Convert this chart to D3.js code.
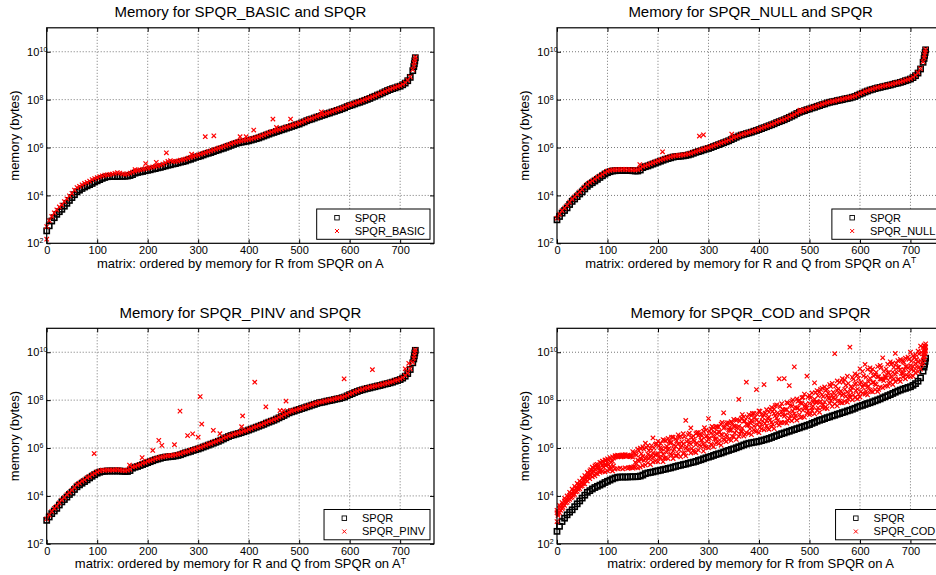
<!DOCTYPE html>
<html>
<head>
<meta charset="utf-8">
<script src="https://cdn.jsdelivr.net/npm/d3@7"></script>
<style>
body { margin: 0; background: #fff; }
text { font-family: "Liberation Sans", Arial, Helvetica, sans-serif; fill: #000; }
</style>
</head>
<body>
<svg id="fig" width="936" height="575"></svg>
<script>
// matrix positions sampled along the x axis (every 5th matrix, plus the steep tail)
var matrixIdx = d3.range(0, 726, 5).concat([727, 728, 729, 730]);
// in-between positions used for the extra SPQR_COD samples
var codIdx = d3.range(2, 723, 5);

// all memory values are log10(bytes)
// SPQR, R only, on A (panels 1 and 4)
var spqrA = [
	2.52, 2.73, 2.93, 3.07, 3.21, 3.32, 3.42, 3.55, 3.67, 3.79,
	3.91, 4.03, 4.15, 4.22, 4.29, 4.35, 4.40, 4.45, 4.50, 4.56,
	4.61, 4.66, 4.71, 4.75, 4.78, 4.79, 4.79, 4.79, 4.79, 4.80,
	4.80, 4.80, 4.81, 4.83, 4.87, 4.93, 4.96, 4.98, 5.00, 5.03,
	5.05, 5.07, 5.10, 5.12, 5.15, 5.17, 5.20, 5.23, 5.26, 5.28,
	5.31, 5.33, 5.36, 5.39, 5.41, 5.44, 5.48, 5.51, 5.55, 5.59,
	5.62, 5.65, 5.69, 5.73, 5.76, 5.79, 5.83, 5.87, 5.90, 5.94,
	5.97, 6.01, 6.05, 6.09, 6.13, 6.17, 6.20, 6.22, 6.24, 6.26,
	6.28, 6.31, 6.34, 6.37, 6.40, 6.44, 6.48, 6.52, 6.56, 6.60,
	6.63, 6.67, 6.70, 6.74, 6.77, 6.81, 6.84, 6.88, 6.91, 6.95,
	6.98, 7.03, 7.07, 7.12, 7.16, 7.19, 7.23, 7.27, 7.30, 7.34,
	7.37, 7.41, 7.44, 7.48, 7.51, 7.55, 7.58, 7.62, 7.66, 7.71,
	7.75, 7.78, 7.82, 7.86, 7.89, 7.93, 7.97, 8.01, 8.05, 8.10,
	8.14, 8.19, 8.23, 8.28, 8.33, 8.38, 8.42, 8.46, 8.49, 8.53,
	8.56, 8.62, 8.69, 8.79, 8.93, 9.21,
	9.38, 9.50, 9.62, 9.75
];

// SPQR, R and Q, on A^T (panels 2 and 3)
var spqrAT = [
	2.98, 3.12, 3.26, 3.37, 3.48, 3.62, 3.75, 3.85, 3.95, 4.06,
	4.15, 4.27, 4.38, 4.46, 4.53, 4.60, 4.67, 4.75, 4.82, 4.89,
	4.95, 4.99, 5.02, 5.03, 5.04, 5.04, 5.04, 5.04, 5.04, 5.04,
	5.03, 5.02, 5.02, 5.06, 5.16, 5.20, 5.23, 5.27, 5.31, 5.35,
	5.39, 5.43, 5.47, 5.51, 5.54, 5.57, 5.60, 5.62, 5.63, 5.64,
	5.65, 5.67, 5.69, 5.72, 5.76, 5.80, 5.83, 5.86, 5.90, 5.93,
	5.96, 6.00, 6.04, 6.08, 6.12, 6.16, 6.20, 6.24, 6.28, 6.33,
	6.38, 6.43, 6.48, 6.52, 6.55, 6.58, 6.61, 6.64, 6.68, 6.71,
	6.75, 6.79, 6.83, 6.87, 6.91, 6.95, 6.99, 7.04, 7.08, 7.12,
	7.16, 7.21, 7.26, 7.31, 7.36, 7.42, 7.47, 7.51, 7.54, 7.58,
	7.61, 7.65, 7.68, 7.72, 7.75, 7.79, 7.82, 7.86, 7.89, 7.91,
	7.93, 7.96, 7.98, 8.00, 8.03, 8.05, 8.07, 8.10, 8.13, 8.18,
	8.23, 8.27, 8.32, 8.36, 8.40, 8.43, 8.46, 8.49, 8.51, 8.54,
	8.56, 8.59, 8.61, 8.64, 8.67, 8.69, 8.72, 8.75, 8.79, 8.82,
	8.86, 8.92, 9.00, 9.11, 9.28, 9.56,
	9.72, 9.85, 9.97, 10.08
];

// SPQR_BASIC
var basic = [
	2.70, 2.95, 3.12, 3.27, 3.40, 3.52, 3.60, 3.74, 3.86, 3.98,
	4.09, 4.22, 4.33, 4.38, 4.44, 4.50, 4.54, 4.60, 4.66, 4.70,
	4.74, 4.78, 4.82, 4.85, 4.86, 4.88, 4.89, 4.92, 4.95, 4.93,
	4.90, 4.88, 4.90, 4.93, 4.97, 5.01, 5.05, 5.07, 5.09, 5.12,
	5.14, 5.16, 5.19, 5.21, 5.24, 5.27, 5.31, 5.36, 5.42, 5.45,
	5.42, 5.42, 5.44, 5.47, 5.49, 5.52, 5.56, 5.59, 5.62, 5.66,
	5.69, 5.72, 5.76, 5.79, 5.83, 5.86, 5.90, 5.93, 5.97, 6.00,
	6.04, 6.08, 6.11, 6.15, 6.19, 6.23, 6.26, 6.28, 6.30, 6.32,
	6.34, 6.36, 6.39, 6.42, 6.45, 6.49, 6.53, 6.57, 6.61, 6.65,
	6.68, 6.72, 6.75, 6.78, 6.82, 6.85, 6.88, 6.92, 6.95, 6.99,
	7.02, 7.06, 7.10, 7.15, 7.19, 7.22, 7.26, 7.30, 7.33, 7.37,
	7.40, 7.44, 7.47, 7.51, 7.54, 7.58, 7.61, 7.65, 7.69, 7.74,
	7.78, 7.81, 7.85, 7.89, 7.92, 7.96, 8.00, 8.04, 8.08, 8.12,
	8.16, 8.21, 8.25, 8.30, 8.35, 8.40, 8.44, 8.48, 8.51, 8.55,
	8.58, 8.64, 8.71, 8.81, 8.95, 9.25,
	9.42, 9.55, 9.66, 9.78
];
var basicOutIdx = [0, 175, 196, 217, 237, 287, 314, 331, 383, 395, 410, 448, 455, 483, 544];
var basicOut = [2.17, 5.08, 5.33, 5.38, 5.78, 5.72, 6.45, 6.49, 6.45, 6.45, 6.73, 7.19, 6.84, 7.19, 7.49];

// SPQR_NULL
var nullR = [
	3.05, 3.22, 3.36, 3.47, 3.58, 3.72, 3.84, 3.94, 4.04, 4.15,
	4.25, 4.36, 4.46, 4.54, 4.61, 4.68, 4.75, 4.82, 4.88, 4.95,
	5.01, 5.05, 5.07, 5.08, 5.08, 5.08, 5.09, 5.09, 5.08, 5.08,
	5.07, 5.07, 5.08, 5.12, 5.20, 5.24, 5.28, 5.32, 5.36, 5.40,
	5.44, 5.48, 5.52, 5.55, 5.58, 5.61, 5.64, 5.66, 5.67, 5.68,
	5.69, 5.71, 5.73, 5.76, 5.80, 5.83, 5.87, 5.90, 5.93, 5.97,
	6.00, 6.04, 6.07, 6.11, 6.15, 6.19, 6.23, 6.27, 6.31, 6.36,
	6.41, 6.46, 6.50, 6.54, 6.57, 6.60, 6.63, 6.66, 6.70, 6.73,
	6.77, 6.81, 6.85, 6.89, 6.93, 6.97, 7.01, 7.06, 7.10, 7.14,
	7.18, 7.23, 7.28, 7.33, 7.38, 7.44, 7.49, 7.53, 7.56, 7.60,
	7.63, 7.67, 7.70, 7.74, 7.77, 7.81, 7.84, 7.88, 7.91, 7.93,
	7.95, 7.98, 8.00, 8.02, 8.05, 8.07, 8.09, 8.12, 8.15, 8.20,
	8.25, 8.29, 8.34, 8.38, 8.42, 8.45, 8.48, 8.51, 8.53, 8.56,
	8.58, 8.61, 8.63, 8.66, 8.69, 8.71, 8.74, 8.77, 8.81, 8.84,
	8.88, 8.94, 9.02, 9.13, 9.30, 9.58,
	9.74, 9.87, 9.99, 10.10
];
var nullOutIdx = [164, 209, 282, 290, 346, 481];
var nullOut = [5.29, 5.82, 6.48, 6.53, 6.56, 7.56];

// SPQR_PINV
var pinv = [
	3.04, 3.20, 3.35, 3.48, 3.57, 3.71, 3.83, 3.93, 4.05, 4.14,
	4.24, 4.35, 4.47, 4.53, 4.62, 4.67, 4.76, 4.81, 4.89, 4.94,
	5.00, 5.05, 5.08, 5.07, 5.09, 5.08, 5.08, 5.09, 5.10, 5.08,
	5.07, 5.06, 5.08, 5.11, 5.21, 5.23, 5.28, 5.31, 5.37, 5.39,
	5.45, 5.47, 5.51, 5.56, 5.58, 5.62, 5.63, 5.66, 5.68, 5.68,
	5.70, 5.71, 5.74, 5.76, 5.81, 5.83, 5.86, 5.91, 5.93, 5.96,
	6.01, 6.03, 6.08, 6.11, 6.16, 6.18, 6.24, 6.27, 6.32, 6.35,
	6.42, 6.45, 6.51, 6.53, 6.58, 6.60, 6.64, 6.66, 6.71, 6.73,
	6.78, 6.81, 6.86, 6.89, 6.94, 6.97, 7.02, 7.06, 7.11, 7.14,
	7.19, 7.23, 7.29, 7.33, 7.39, 7.44, 7.50, 7.53, 7.57, 7.60,
	7.64, 7.67, 7.71, 7.74, 7.78, 7.81, 7.85, 7.88, 7.92, 7.93,
	7.96, 7.98, 8.01, 8.02, 8.06, 8.07, 8.10, 8.12, 8.16, 8.20,
	8.26, 8.29, 8.35, 8.38, 8.43, 8.45, 8.49, 8.51, 8.54, 8.56,
	8.59, 8.61, 8.64, 8.66, 8.70, 8.71, 8.75, 8.77, 8.82, 8.84,
	8.89, 8.94, 9.03, 9.13, 9.31, 9.58,
	9.75, 9.87, 10.00, 10.10
];
var pinvOutIdx = [94, 164, 189, 210, 222, 228, 253, 264, 279, 289, 300, 304, 307, 330, 343,
	386, 388, 412, 434, 462, 469, 474, 483, 589, 645, 710, 717];
var pinvOut = [5.77, 5.29, 5.60, 5.90, 6.32, 6.11, 6.14, 7.54, 6.52, 6.59, 6.45, 8.15, 7.00, 6.74, 6.60,
	6.89, 7.34, 8.75, 7.72, 7.56, 7.56, 7.96, 7.57, 8.89, 9.27, 9.31, 9.54];

// SPQR_COD: a wide cloud, kept as samples from its lower, middle and upper parts
var codLo = [
	2.93, 3.30, 3.47, 3.60, 3.73, 3.86, 3.95, 4.06, 4.19, 4.30,
	4.42, 4.50, 4.62, 4.72, 4.80, 4.84, 4.92, 4.98, 5.02, 5.00,
	5.05, 5.10, 5.04, 5.12, 5.14, 5.16, 5.13, 5.17, 5.15, 5.18,
	5.16, 5.19, 5.17, 5.20, 5.26, 5.29, 5.38, 5.31, 5.42, 5.45,
	5.43, 5.59, 5.43, 5.59, 5.56, 5.75, 5.56, 5.67, 5.76, 5.63,
	5.77, 5.67, 5.91, 5.79, 5.90, 5.81, 5.91, 6.08, 5.87, 6.04,
	6.01, 6.16, 6.05, 6.21, 6.18, 6.12, 6.37, 6.27, 6.36, 6.32,
	6.47, 6.36, 6.49, 6.67, 6.50, 6.64, 6.61, 6.56, 6.76, 6.69,
	6.64, 6.80, 6.76, 6.92, 6.78, 6.89, 6.81, 7.03, 6.96, 7.07,
	7.07, 7.04, 7.23, 7.13, 7.25, 7.16, 7.40, 7.30, 7.29, 7.45,
	7.39, 7.57, 7.43, 7.57, 7.49, 7.69, 7.66, 7.65, 7.87, 7.74,
	7.84, 7.76, 7.96, 7.89, 7.95, 7.92, 8.13, 8.01, 8.12, 8.05,
	8.13, 8.28, 8.25, 8.22, 8.42, 8.34, 8.44, 8.36, 8.54, 8.52,
	8.59, 8.58, 8.75, 8.65, 8.77, 8.86, 8.78, 8.97, 8.89, 8.99,
	8.98, 9.00, 9.14, 9.19, 9.29, 9.55,
	9.70, 9.82, 9.95, 10.05
];
var codMid = [
	3.30, 3.48, 3.60, 3.79, 3.87, 4.02, 4.09, 4.23, 4.34, 4.46,
	4.55, 4.71, 4.77, 4.91, 4.96, 5.12, 5.17, 5.05, 5.27, 5.31,
	5.36, 5.22, 5.45, 5.62, 5.64, 5.66, 5.65, 5.67, 5.66, 5.64,
	5.62, 5.40, 5.50, 5.58, 5.66, 5.55, 5.74, 5.61, 5.80, 5.70,
	5.77, 6.02, 5.74, 6.00, 5.94, 6.19, 5.88, 6.07, 6.17, 6.03,
	6.17, 5.99, 6.34, 6.16, 6.34, 6.14, 6.52, 6.32, 6.17, 6.48,
	6.36, 6.62, 6.52, 6.38, 6.68, 6.57, 6.83, 6.56, 6.77, 6.74,
	6.92, 6.72, 6.90, 6.72, 7.12, 6.99, 6.96, 7.16, 6.91, 7.16,
	7.09, 6.99, 7.37, 7.13, 7.29, 7.08, 7.44, 7.25, 7.41, 7.52,
	7.33, 7.60, 7.49, 7.75, 7.43, 7.68, 7.59, 7.86, 7.74, 7.67,
	7.86, 7.68, 8.04, 7.92, 7.90, 8.23, 7.92, 8.18, 8.07, 8.20,
	8.04, 8.40, 8.26, 8.20, 8.45, 8.34, 8.21, 8.52, 8.66, 8.46,
	8.68, 8.54, 8.69, 8.54, 8.91, 8.74, 8.68, 8.97, 8.89, 8.88,
	8.94, 9.14, 8.93, 9.17, 9.08, 9.37, 9.27, 9.12, 9.41, 9.35,
	9.44, 9.41, 9.53, 9.59, 9.65, 9.81,
	9.96, 10.04, 10.14, 10.22
];
var codHi = [
	3.40, 3.60, 3.72, 3.90, 4.00, 4.15, 4.28, 4.40, 4.52, 4.62,
	4.74, 4.85, 4.98, 5.05, 5.20, 5.25, 5.32, 5.40, 5.45, 5.50,
	5.55, 5.60, 5.63, 5.68, 5.70, 5.69, 5.71, 5.72, 5.70, 5.68,
	5.85, 5.78, 5.95, 6.00, 6.05, 6.20, 6.10, 5.98, 6.42, 6.15,
	6.28, 6.20, 6.35, 6.30, 6.40, 6.25, 6.45, 6.38, 6.55, 6.49,
	6.60, 7.15, 6.55, 6.84, 6.50, 6.60, 6.65, 6.55, 6.70, 6.75,
	7.23, 6.80, 6.85, 6.90, 6.88, 7.00, 7.47, 7.00, 7.05, 7.10,
	7.20, 7.15, 8.03, 7.25, 7.30, 8.75, 7.40, 7.35, 7.45, 8.44,
	7.55, 7.40, 8.65, 7.60, 7.50, 7.70, 7.62, 7.80, 8.89, 7.85,
	8.90, 7.90, 8.61, 7.95, 9.39, 8.05, 8.00, 8.10, 8.25, 9.00,
	8.20, 8.30, 8.72, 8.40, 8.35, 8.50, 8.55, 8.45, 8.65, 8.70,
	9.94, 8.80, 8.75, 8.90, 8.85, 9.00, 10.21, 8.95, 9.10, 9.05,
	9.31, 9.20, 9.49, 9.28, 9.35, 9.30, 9.07, 9.40, 9.45, 9.77,
	9.00, 9.50, 9.60, 9.55, 9.95, 9.65, 9.70, 9.62, 9.75, 9.80,
	10.00, 9.85, 9.90, 10.05, 10.26, 10.20,
	10.30, 10.15, 10.25, 10.35
];
var codA = [
	3.18, 3.40, 3.52, 3.71, 3.80, 3.93, 4.02, 4.17, 4.27, 4.40,
	4.50, 4.66, 4.80, 4.85, 5.02, 4.94, 5.15, 5.08, 5.20, 5.26,
	5.30, 5.18, 5.25, 5.64, 5.66, 5.63, 5.67, 5.65, 5.18, 5.20,
	5.22, 5.35, 5.45, 5.52, 5.48, 5.60, 5.57, 5.66, 5.62, 5.75,
	5.61, 5.86, 5.58, 5.82, 5.99, 5.70, 5.95, 5.68, 5.93, 6.09,
	5.81, 6.05, 6.21, 5.98, 5.84, 6.21, 6.12, 6.33, 6.08, 6.28,
	6.42, 6.12, 6.38, 6.59, 6.33, 6.54, 6.33, 6.50, 6.74, 6.49,
	6.63, 6.86, 6.57, 6.83, 6.58, 6.95, 6.80, 7.09, 6.71, 6.97,
	6.86, 7.13, 7.03, 6.82, 7.17, 6.99, 7.34, 7.15, 7.05, 7.39,
	7.38, 7.16, 7.34, 7.55, 7.34, 7.67, 7.27, 7.58, 7.69, 7.54,
	7.45, 7.75, 7.92, 7.68, 7.95, 7.81, 7.72, 8.10, 7.97, 8.09,
	8.21, 7.98, 7.90, 8.26, 8.16, 8.05, 8.40, 8.22, 8.40, 8.24,
	8.36, 8.64, 8.37, 8.58, 8.37, 8.74, 8.65, 8.45, 8.88, 8.81,
	8.93, 8.71, 8.99, 8.89, 9.18, 8.87, 9.12, 9.27, 9.06, 9.17,
	9.28, 9.23, 9.39, 9.37, 9.49
];
var codB = [
	3.25, 3.52, 3.66, 3.84, 3.95, 4.08, 4.20, 4.32, 4.46, 4.55,
	4.68, 4.80, 4.92, 5.10, 5.15, 5.30, 5.22, 5.38, 5.42, 5.48,
	5.50, 5.42, 5.58, 5.66, 5.68, 5.64, 5.70, 5.66, 5.67, 5.65,
	5.80, 5.70, 5.88, 5.76, 5.95, 6.02, 5.90, 6.10, 6.00, 6.18,
	6.08, 5.96, 6.32, 6.08, 6.28, 6.45, 6.12, 6.30, 6.45, 6.26,
	6.47, 6.27, 6.62, 6.44, 6.29, 6.64, 6.58, 6.51, 6.85, 6.52,
	6.71, 6.90, 6.67, 6.88, 6.66, 7.07, 6.86, 7.05, 6.86, 7.06,
	6.89, 7.19, 7.12, 7.40, 7.13, 7.28, 7.07, 7.45, 7.28, 7.40,
	7.53, 7.29, 7.46, 7.26, 7.62, 7.53, 7.77, 7.47, 7.73, 7.61,
	7.60, 7.87, 7.78, 8.01, 7.70, 7.95, 7.88, 8.12, 7.82, 8.13,
	8.10, 7.92, 8.31, 8.18, 8.45, 8.15, 8.41, 8.29, 8.57, 8.33,
	8.59, 8.47, 8.38, 8.76, 8.62, 8.70, 8.56, 8.88, 8.71, 8.91,
	8.75, 9.01, 8.96, 8.77, 9.17, 9.01, 9.16, 8.98, 9.36, 9.20,
	9.30, 9.14, 9.50, 9.37, 9.54, 9.37, 9.66, 9.58, 9.39, 9.70,
	9.63, 9.77, 9.71, 9.93, 9.99
];

var xTicks = [0, 100, 200, 300, 400, 500, 600, 700];
var yTicks = [1e2, 1e4, 1e6, 1e8, 1e10];

var pw = 387.3, ph = 215.5;
var x = d3.scaleLinear().domain([0, 767]).range([0, pw]);
var y = d3.scaleLog().domain([1e2, 1e11]).range([ph, 0]);

var svg = d3.select('#fig');

var pairs = function(idx, vals) {
	return idx.map(function(d, i) { return {i: d, v: Math.pow(10, vals[i])}; });
};

var panels = [
	{left: 46.7, top: 27.8, title: 'Memory for SPQR_BASIC and SPQR', name: 'SPQR_BASIC',
		xlabel: 'matrix: ordered by memory for R from SPQR on A', sup: '',
		black: spqrA, reds: [pairs(matrixIdx, basic), pairs(basicOutIdx, basicOut)]},
	{left: 557, top: 27.8, title: 'Memory for SPQR_NULL and SPQR', name: 'SPQR_NULL',
		xlabel: 'matrix: ordered by memory for R and Q from SPQR on A', sup: 'T',
		black: spqrAT, reds: [pairs(matrixIdx, nullR), pairs(nullOutIdx, nullOut)]},
	{left: 46.7, top: 328.3, title: 'Memory for SPQR_PINV and SPQR', name: 'SPQR_PINV',
		xlabel: 'matrix: ordered by memory for R and Q from SPQR on A', sup: 'T',
		black: spqrAT, reds: [pairs(matrixIdx, pinv), pairs(pinvOutIdx, pinvOut)]},
	{left: 557, top: 328.3, title: 'Memory for SPQR_COD and SPQR', name: 'SPQR_COD',
		xlabel: 'matrix: ordered by memory for R from SPQR on A', sup: '',
		black: spqrA, reds: [pairs(matrixIdx, codLo), pairs(codIdx, codA), pairs(matrixIdx, codMid),
			pairs(codIdx, codB), pairs(matrixIdx, codHi)]}
];

var xPath = 'M-2.2,-2.2L2.2,2.2M-2.2,2.2L2.2,-2.2';
var sq = 5.2;

var drawPanel = function(p) {
	var g = svg.append('g').attr('transform', 'translate(' + p.left + ',' + p.top + ')');

	// dotted grid
	var grid = g.append('g').attr('stroke', '#777').attr('stroke-dasharray', '1,2');
	grid.selectAll('line.v').data(xTicks.slice(1)).enter().append('line')
		.attr('x1', function(d) { return x(d); })
		.attr('x2', function(d) { return x(d); })
		.attr('y1', 0).attr('y2', ph);
	grid.selectAll('line.h').data(yTicks.slice(1)).enter().append('line')
		.attr('x1', 0).attr('x2', pw)
		.attr('y1', function(d) { return y(d); })
		.attr('y2', function(d) { return y(d); });

	// axes, ticks pointing inwards
	var xa = g.append('g').attr('transform', 'translate(0,' + ph + ')')
		.call(d3.axisBottom(x).tickValues(xTicks).tickSize(-4).tickPadding(3.2).tickFormat(d3.format('d')));
	xa.attr('font-size', 11).attr('font-family', null);
	g.append('g').call(d3.axisTop(x).tickValues(xTicks).tickSize(-4).tickFormat(''));
	var ya = g.append('g').call(d3.axisLeft(y).tickValues(yTicks).tickSize(-4).tickFormat(''));
	g.append('g').attr('transform', 'translate(' + pw + ',0)')
		.call(d3.axisRight(y).tickValues(yTicks).tickSize(-4).tickFormat(''));
	g.selectAll('.domain').remove();
	g.selectAll('.tick line').attr('stroke', '#000');

	ya.selectAll('.tick text').remove();
	ya.selectAll('.tick').each(function(d) {
		var t = d3.select(this);
		t.append('text').attr('x', -7.4).attr('y', 3.6).attr('text-anchor', 'end')
			.attr('font-size', 11).text('10');
		t.append('text').attr('x', -7.2).attr('y', -0.4).attr('text-anchor', 'start')
			.attr('font-size', 7).text(Math.round(Math.log10(d)));
	});

	// SPQR squares, then the red crosses on top
	g.append('g').selectAll('rect').data(pairs(matrixIdx, p.black)).enter().append('rect')
		.attr('x', function(d) { return x(d.i) - sq / 2; })
		.attr('y', function(d) { return y(d.v) - sq / 2; })
		.attr('width', sq).attr('height', sq)
		.attr('fill', 'none').attr('stroke', '#000').attr('stroke-width', 1.6);

	p.reds.forEach(function(set) {
		g.append('g').selectAll('path').data(set).enter().append('path')
			.attr('d', xPath)
			.attr('transform', function(d) { return 'translate(' + x(d.i) + ',' + y(d.v) + ')'; })
			.attr('fill', 'none').attr('stroke', '#ff0000').attr('stroke-width', 1.2);
	});

	// box
	g.append('rect').attr('width', pw).attr('height', ph)
		.attr('fill', 'none').attr('stroke', '#000').attr('stroke-width', 1.2);

	// legend
	var lg = g.append('g');
	var box = lg.append('rect').attr('height', 30.3)
		.attr('fill', '#fff').attr('stroke', '#000').attr('stroke-width', 1);
	var t1 = lg.append('text').attr('font-size', 11).text('SPQR');
	var t2 = lg.append('text').attr('font-size', 11).text(p.name);
	var lw = 38 + Math.max(t1.node().getComputedTextLength(), t2.node().getComputedTextLength()) + 5;
	var lx = pw - 4 - lw, ly = ph - 4 - 30.3;
	box.attr('x', lx).attr('y', ly).attr('width', lw);
	t1.attr('x', lx + 38).attr('y', ly + 12.7);
	t2.attr('x', lx + 38).attr('y', ly + 25.9);
	lg.append('rect').attr('x', lx + 20.3 - 2.25).attr('y', ly + 8.7 - 2.25)
		.attr('width', 4.5).attr('height', 4.5)
		.attr('fill', 'none').attr('stroke', '#000').attr('stroke-width', 0.9);
	lg.append('path').attr('d', 'M-2,-2L2,2M-2,2L2,-2')
		.attr('transform', 'translate(' + (lx + 20.3) + ',' + (ly + 22) + ')')
		.attr('fill', 'none').attr('stroke', '#ff0000').attr('stroke-width', 1);

	// title and labels
	g.append('text').attr('x', pw / 2).attr('y', -10.5).attr('text-anchor', 'middle')
		.attr('font-size', 15).text(p.title);
	var xl = g.append('text').attr('x', pw / 2).attr('y', ph + 24.5).attr('text-anchor', 'middle')
		.attr('font-size', 13).text(p.xlabel);
	if (p.sup) {
		xl.append('tspan').attr('dy', -4.5).attr('font-size', 8.5).text(p.sup);
	}
	g.append('text').attr('transform', 'rotate(-90)')
		.attr('x', -ph / 2).attr('y', -28.2).attr('text-anchor', 'middle')
		.attr('font-size', 13).text('memory (bytes)');
};

panels.forEach(drawPanel);
</script>
</body>
</html>
